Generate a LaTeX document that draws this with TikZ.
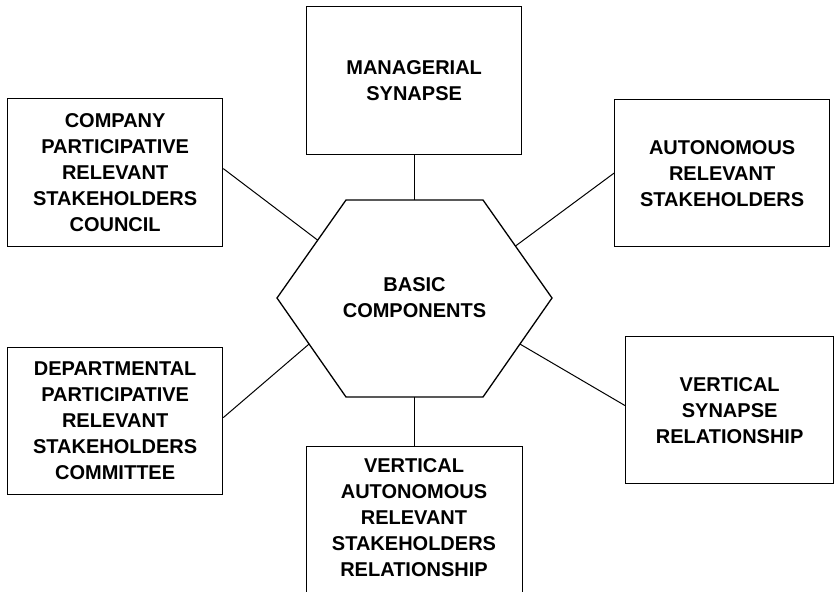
\documentclass[tikz,border=0pt]{standalone}
\usepackage{fontspec}
\setmainfont{Liberation Sans}
\usetikzlibrary{calc}
\begin{document}
\begin{tikzpicture}[x=1pt,y=-1pt,
  txt/.style={align=center, font=\fontsize{20}{26}\selectfont\bfseries, inner sep=0pt},
  box/.style={txt, draw, line width=1.3pt, minimum width=215pt, minimum height=148pt, anchor=north west},
  hexline/.style={line width=1.3pt, line join=miter},
  link/.style={line width=1pt}]
\useasboundingbox (0,0) rectangle (834,591);
\clip (0,0) rectangle (834,591);

% boxes
\node[box] (mgr) at (306,6) {MANAGERIAL\\SYNAPSE};
\node[box] (comp) at (7,98) {COMPANY\\PARTICIPATIVE\\RELEVANT\\STAKEHOLDERS\\COUNCIL};
\node[box, minimum height=147pt] (auto) at (614,99) {AUTONOMOUS\\RELEVANT\\STAKEHOLDERS};
\node[box, minimum height=147pt] (dept) at (7,347) {DEPARTMENTAL\\PARTICIPATIVE\\RELEVANT\\STAKEHOLDERS\\COMMITTEE};
\node[box, minimum width=208pt, minimum height=147pt] (vsr) at (625,336) {VERTICAL\\SYNAPSE\\RELATIONSHIP};
\node[box, minimum width=216pt, minimum height=170pt] (vab) at (306,446) {};
\node[txt] (vabt) at (414,518) {VERTICAL\\AUTONOMOUS\\RELEVANT\\STAKEHOLDERS\\RELATIONSHIP};

% hexagon
\coordinate (h1) at (346,200);
\coordinate (h2) at (483,200);
\coordinate (h3) at (552,298);
\coordinate (h4) at (483,397);
\coordinate (h5) at (346,397);
\coordinate (h6) at (277,298);
\draw[hexline] (h1) -- (h2) -- (h3) -- (h4) -- (h5) -- (h6) -- cycle;
\node[txt] (hex) at (414.5,298) {BASIC\\COMPONENTS};

% attachment points on the hexagon
\coordinate (ht) at (mgr.south |- h1);
\coordinate (hb) at (vab.north |- h5);
\coordinate (hul) at ($(h6)!0.59!(h1)$);
\coordinate (hur) at ($(h2)!0.47!(h3)$);
\coordinate (hll) at ($(h6)!0.465!(h5)$);
\coordinate (hlr) at ($(h3)!0.465!(h4)$);

% attachment points on the boxes
\coordinate (compR) at ($(comp.north east)!0.473!(comp.south east)$);
\coordinate (deptR) at ($(dept.north east)!0.476!(dept.south east)$);
\coordinate (vsrL) at ($(vsr.north west)!0.469!(vsr.south west)$);

% connectors
\draw[link] (mgr.south) -- (ht);
\draw[link] (compR) -- (hul);
\draw[link] (auto.west) -- (hur);
\draw[link] (deptR) -- (hll);
\draw[link] (vsrL) -- (hlr);
\draw[link] (vab.north) -- (hb);
\end{tikzpicture}
\end{document}
